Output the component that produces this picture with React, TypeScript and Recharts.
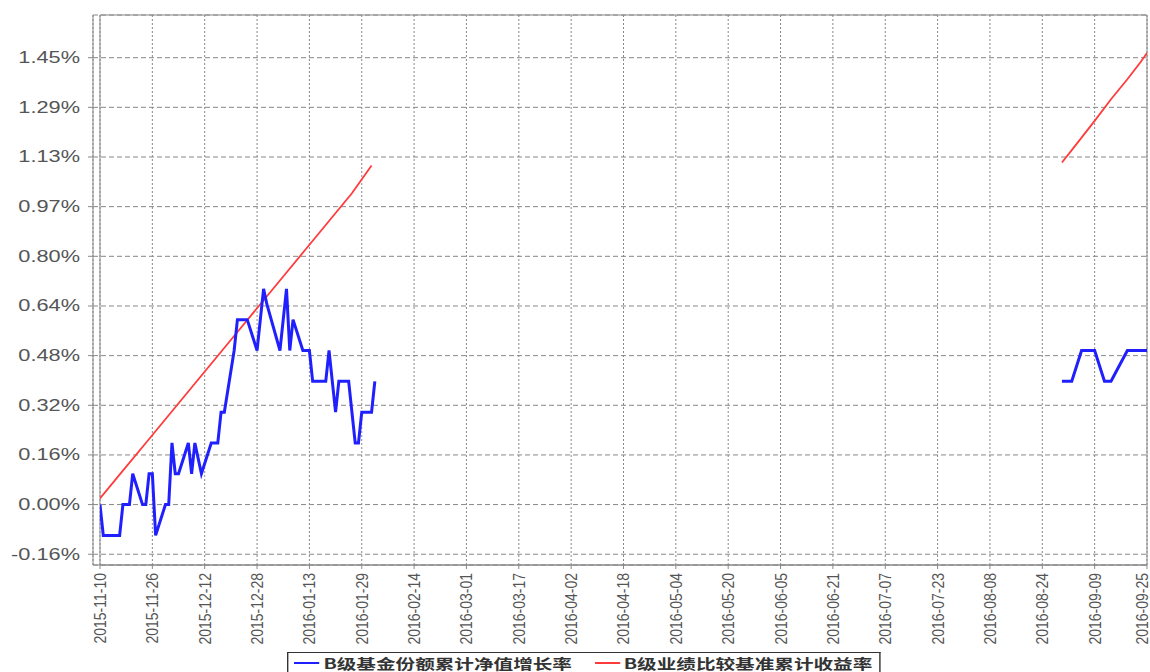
import {
  LineChart,
  Line,
  XAxis,
  YAxis,
  CartesianGrid,
  Legend,
  ReferenceArea,
} from "recharts";

// B级基金份额累计净值增长率 (%), first period
const blueDates1 = [
  "2015-11-10", "2015-11-11", "2015-11-12", "2015-11-13", "2015-11-16", "2015-11-17",
  "2015-11-18", "2015-11-19", "2015-11-20", "2015-11-23", "2015-11-24", "2015-11-25",
  "2015-11-26", "2015-11-27", "2015-11-30", "2015-12-01", "2015-12-02", "2015-12-03",
  "2015-12-04", "2015-12-07", "2015-12-08", "2015-12-09", "2015-12-10", "2015-12-11",
  "2015-12-14", "2015-12-15", "2015-12-16", "2015-12-17", "2015-12-18", "2015-12-21",
  "2015-12-22", "2015-12-23", "2015-12-24", "2015-12-25", "2015-12-28", "2015-12-29",
  "2015-12-30", "2015-12-31", "2016-01-04", "2016-01-05", "2016-01-06", "2016-01-07",
  "2016-01-08", "2016-01-11", "2016-01-12", "2016-01-13", "2016-01-14", "2016-01-15",
  "2016-01-18", "2016-01-19", "2016-01-20", "2016-01-21", "2016-01-22", "2016-01-25",
  "2016-01-26", "2016-01-27", "2016-01-28", "2016-01-29", "2016-02-01", "2016-02-02",
];
const blueValues1 = [
  0.0, -0.1, -0.1, -0.1, -0.1, 0.0,
  0.0, 0.0, 0.1, 0.0, 0.0, 0.1,
  0.1, -0.1, 0.0, 0.0, 0.2, 0.1,
  0.1, 0.2, 0.1, 0.2, 0.15, 0.1,
  0.2, 0.2, 0.2, 0.3, 0.3, 0.5,
  0.6, 0.6, 0.6, 0.6, 0.5, 0.6,
  0.7, 0.65, 0.5, 0.6, 0.7, 0.5,
  0.6, 0.5, 0.5, 0.5, 0.4, 0.4,
  0.4, 0.5, 0.4, 0.3, 0.4, 0.4,
  0.3, 0.2, 0.2, 0.3, 0.3, 0.4,
];

// second period
const blueDates2 = [
  "2016-08-30", "2016-08-31", "2016-09-01", "2016-09-02", "2016-09-05", "2016-09-06",
  "2016-09-07", "2016-09-08", "2016-09-09", "2016-09-12", "2016-09-13", "2016-09-14",
  "2016-09-19", "2016-09-20", "2016-09-21", "2016-09-22", "2016-09-23", "2016-09-25",
];
const blueValues2 = [
  0.4, 0.4, 0.4, 0.4, 0.5, 0.5,
  0.5, 0.5, 0.5, 0.4, 0.4, 0.4,
  0.5, 0.5, 0.5, 0.5, 0.5, 0.5,
];

// B级业绩比较基准累计收益率 (%)
const redDates1 = [
  "2015-11-10", "2015-11-17", "2015-11-24", "2015-12-01", "2015-12-08", "2015-12-15",
  "2015-12-22", "2015-12-29", "2016-01-05", "2016-01-12", "2016-01-19", "2016-01-26",
  "2016-02-01",
];
const redValues1 = [0.02, 0.11, 0.2, 0.29, 0.38, 0.47, 0.56, 0.65, 0.74, 0.83, 0.92, 1.01, 1.1];

const redDates2 = [
  "2016-08-30", "2016-09-02", "2016-09-09", "2016-09-14", "2016-09-19", "2016-09-23", "2016-09-25",
];
const redValues2 = [1.11, 1.15, 1.245, 1.315, 1.38, 1.435, 1.465];

const xTickDates = [
  "2015-11-10", "2015-11-26", "2015-12-12", "2015-12-28", "2016-01-13", "2016-01-29",
  "2016-02-14", "2016-03-01", "2016-03-17", "2016-04-02", "2016-04-18", "2016-05-04",
  "2016-05-20", "2016-06-05", "2016-06-21", "2016-07-07", "2016-07-23", "2016-08-08",
  "2016-08-24", "2016-09-09", "2016-09-25",
];

const yTicks = [-0.1611, 0, 0.1611, 0.3222, 0.4833, 0.6444, 0.8056, 0.9667, 1.1278, 1.2889, 1.45];
const yTickLabels = [
  "-0.16%", "0.00%", "0.16%", "0.32%", "0.48%", "0.64%", "0.80%", "0.97%", "1.13%", "1.29%", "1.45%",
];

const blueName = "B级基金份额累计净值增长率";
const redName = "B级业绩比较基准累计收益率";

const parse = (d: string) => Date.parse(d + "T00:00:00Z");
const toRows = (dates: string[], values: number[]) =>
  dates.map((d, i) => ({ t: parse(d), v: values[i] }));

const blue1 = toRows(blueDates1, blueValues1);
const blue2 = toRows(blueDates2, blueValues2);
const red1 = toRows(redDates1, redValues1);
const red2 = toRows(redDates2, redValues2);

const xStart = parse(xTickDates[0]);
const xEnd = parse(xTickDates[xTickDates.length - 1]);
const yMin = -0.196;
const yMax = 1.5885;

const FONT = '"Liberation Sans", Arial, sans-serif';

function XTick({ x, y, payload }: any) {
  const label = new Date(payload.value).toISOString().slice(0, 10);
  // keep the last label inside the page
  const cx = x > 1142 ? 1142 : x;
  return (
    <text
      transform={`translate(${cx},${y + 2}) rotate(-90) scale(1,1.2)`}
      textAnchor="end"
      dominantBaseline="central"
      fontSize={14}
      fontFamily={FONT}
      fill="#555"
    >
      {label}
    </text>
  );
}

function YTick({ x, y, payload }: any) {
  const label = yTickLabels[yTicks.indexOf(payload.value)];
  return (
    <text
      transform={`translate(${x - 6},${y}) scale(1.36,1)`}
      textAnchor="end"
      dominantBaseline="central"
      fontSize={16}
      fontFamily={FONT}
      fill="#555"
    >
      {label}
    </text>
  );
}

function LegendBox({ payload }: any) {
  const items = (payload || []).filter((p: any) => p.type !== "none");
  return (
    <div
      style={{
        width: 424,
        height: 20,
        border: "1px solid #333",
        borderBottom: "none",
        boxSizing: "border-box",
        transform: "scaleX(1.4)",
        transformOrigin: "left top",
        display: "flex",
        alignItems: "center",
        paddingLeft: 4,
        fontFamily: '"Noto Sans CJK SC", sans-serif',
        fontWeight: "bold",
        fontSize: 14,
        color: "#333",
        whiteSpace: "nowrap",
      }}
    >
      {items.map((p: any) => (
        <span key={p.value} style={{ display: "flex", alignItems: "center", marginRight: 16 }}>
          <span
            style={{
              display: "inline-block",
              width: 18,
              height: 2,
              background: p.color,
              marginRight: 3,
            }}
          />
          {p.value}
        </span>
      ))}
    </div>
  );
}

export default function App() {
  return (
    <div style={{ position: "absolute", left: 0, top: 0 }}>
      <LineChart width={1150} height={672} margin={{ top: 15, right: 3, left: 0, bottom: 0 }}>
        <CartesianGrid horizontal={false} stroke="#888" strokeDasharray="2 2" />
        <CartesianGrid vertical={false} stroke="#888" strokeDasharray="5 3" />
        <XAxis
          dataKey="t"
          type="number"
          domain={[xStart, xEnd]}
          allowDataOverflow
          ticks={xTickDates.map(parse)}
          interval={0}
          padding={{ left: 7 }}
          height={107}
          tickSize={4}
          axisLine={{ stroke: "#888" }}
          tickLine={{ stroke: "#888" }}
          tick={<XTick />}
        />
        <YAxis
          type="number"
          domain={[yMin, yMax]}
          allowDataOverflow
          ticks={yTicks}
          interval={0}
          width={93}
          tickSize={5}
          axisLine={{ stroke: "#888" }}
          tickLine={{ stroke: "#888" }}
          tick={<YTick />}
        />
        <ReferenceArea
          x1={xStart}
          x2={xEnd}
          y1={yMin}
          y2={yMax}
          fill="none"
          fillOpacity={0}
          stroke="#888"
          strokeWidth={1}
        />
        <Line
          data={red1}
          dataKey="v"
          name={redName}
          type="linear"
          stroke="#ff3b3b"
          strokeWidth={1.8}
          dot={false}
          isAnimationActive={false}
        />
        <Line
          data={red2}
          dataKey="v"
          name={redName + " "}
          legendType="none"
          type="linear"
          stroke="#ff3b3b"
          strokeWidth={1.8}
          dot={false}
          isAnimationActive={false}
        />
        <Line
          data={blue1}
          dataKey="v"
          name={blueName}
          type="linear"
          stroke="#2020ff"
          strokeWidth={3}
          dot={false}
          isAnimationActive={false}
        />
        <Line
          data={blue2}
          dataKey="v"
          name={blueName + " "}
          legendType="none"
          type="linear"
          stroke="#2020ff"
          strokeWidth={3}
          dot={false}
          isAnimationActive={false}
        />
        <Legend
          layout="horizontal"
          align="center"
          verticalAlign="middle"
          wrapperStyle={{ left: 287, top: 652, width: "auto", height: "auto" }}
          content={(props: any) => {
            const sorted = [...(props.payload || [])].sort((a: any, b: any) =>
              a.value === blueName ? -1 : b.value === blueName ? 1 : 0
            );
            return <LegendBox payload={sorted} />;
          }}
        />
      </LineChart>
    </div>
  );
}
